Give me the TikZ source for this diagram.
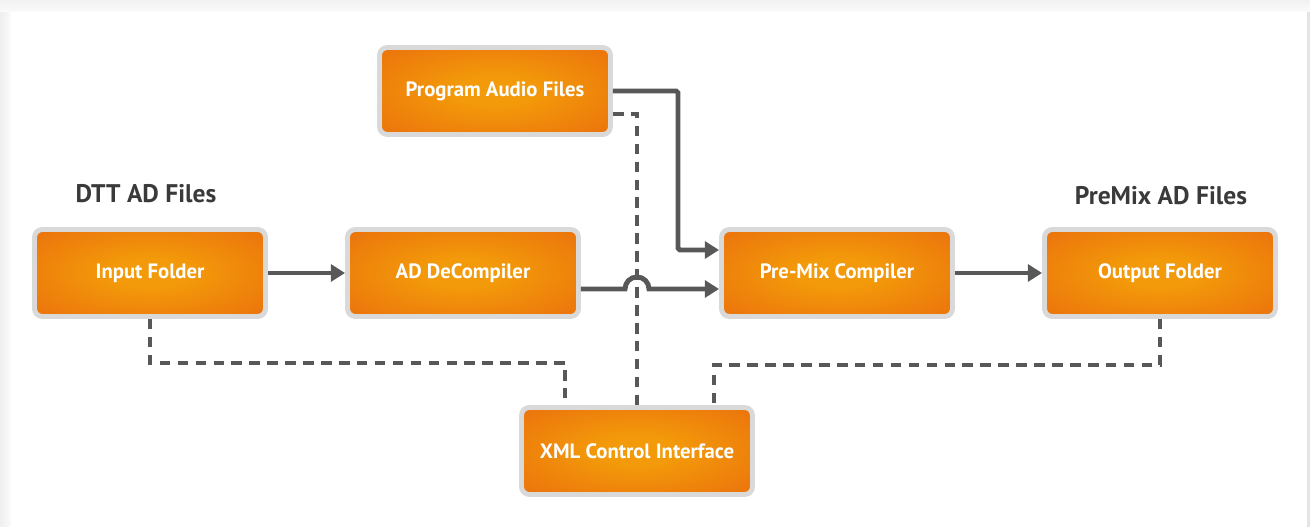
\documentclass[tikz,border=0pt]{standalone}
\usepackage{fontspec}
\setmainfont{PT Sans}
\usetikzlibrary{arrows.meta,shadows}
\definecolor{MixInk}{HTML}{3A3A3A}
\definecolor{MixWire}{HTML}{585858}
\definecolor{MixRim}{HTML}{D9D9D9}
\definecolor{MixGlow}{HTML}{F39A0A}
\definecolor{MixRust}{HTML}{E8630D}
\definecolor{MixFrame}{HTML}{E4E4E4}
\pgfdeclareradialshading{mixglow}{\pgfpoint{0bp}{0bp}}{%
  color(0bp)=(MixGlow); color(8bp)=(MixGlow); color(46bp)=(MixRust); color(72bp)=(MixRust)}
\tikzset{
  mix box/.style={rectangle, rounded corners=4.5pt, draw=MixRim, line width=2.8pt,
    shading=mixglow, minimum width=4.62cm, minimum height=1.74cm,
    font=\bfseries\fontsize{11.8}{14}\selectfont, text=white,
    drop shadow={shadow xshift=.7pt, shadow yshift=-.9pt, opacity=.3, fill=black}},
  mix label/.style={font=\bfseries\fontsize{14.5}{17}\selectfont, text=MixInk},
  mix flow/.style={draw=MixWire, line width=2.8pt, -{Triangle[length=8pt,width=9.5pt]}},
  mix control/.style={draw=MixWire, line width=2.4pt, dash pattern=on 6pt off 4.2pt},
}

\begin{document}
\begin{tikzpicture}[x=1cm,y=1cm]
  \useasboundingbox (0,0) rectangle (26.2,10.54);

  % frame round the sheet
  \fill[MixFrame] (0,0) rectangle (26.2,10.54);
  \shade[left color=MixFrame!60, right color=MixFrame!110!black] (0,0) rectangle (0.22,10.54);
  \shade[top color=MixFrame!50, bottom color=MixFrame!110!black] (0,10.30) rectangle (26.2,10.54);
  \fill[white] (0.22,0) rectangle (26.14,10.30);

  \node[mix label] (dttlabel) at (2.92,6.66) {DTT AD Files};
  \node[mix label] (premixlabel) at (23.22,6.62) {PreMix AD Files};

  \node[mix box] (program) at (9.90,8.72) {Program Audio Files};
  \node[mix box] (input)   at (3.00,5.08) {Input Folder};
  \node[mix box] (decomp)  at (9.26,5.08) {AD DeCompiler};
  \node[mix box] (premix)  at (16.74,5.08) {Pre-Mix Compiler};
  \node[mix box] (output)  at (23.20,5.08) {Output Folder};
  \node[mix box] (xml)     at (12.74,1.52) {XML Control Interface};

  \coordinate (feed)    at (13.56,8.72);
  \coordinate (inlink)  at (11.30,3.28);
  \coordinate (outlink) at (14.28,3.24);

  % control lines to the interface
  \draw[mix control] (input.south) |- (inlink) -- (inlink |- xml.north);
  \draw[mix control] (output.south) |- (outlink) -- (outlink |- xml.north);
  \draw[mix control] ([yshift=-0.46cm]program.east) -| (xml.north);

  % audio path
  \draw[mix flow] (input) -- (decomp);
  \draw[mix flow] (premix) -- (output);
  \draw[mix flow, rounded corners=1pt] (program.east) -- (feed) |- ([yshift=0.46cm]premix.west);
  \draw[mix flow] ([yshift=-0.32cm]decomp.east)
    -- ([xshift=-0.24cm,yshift=-0.32cm]decomp.east -| xml.north)
    arc[start angle=180, end angle=0, radius=0.24cm]
    -- ([yshift=-0.32cm]premix.west);
\end{tikzpicture}
\end{document}
